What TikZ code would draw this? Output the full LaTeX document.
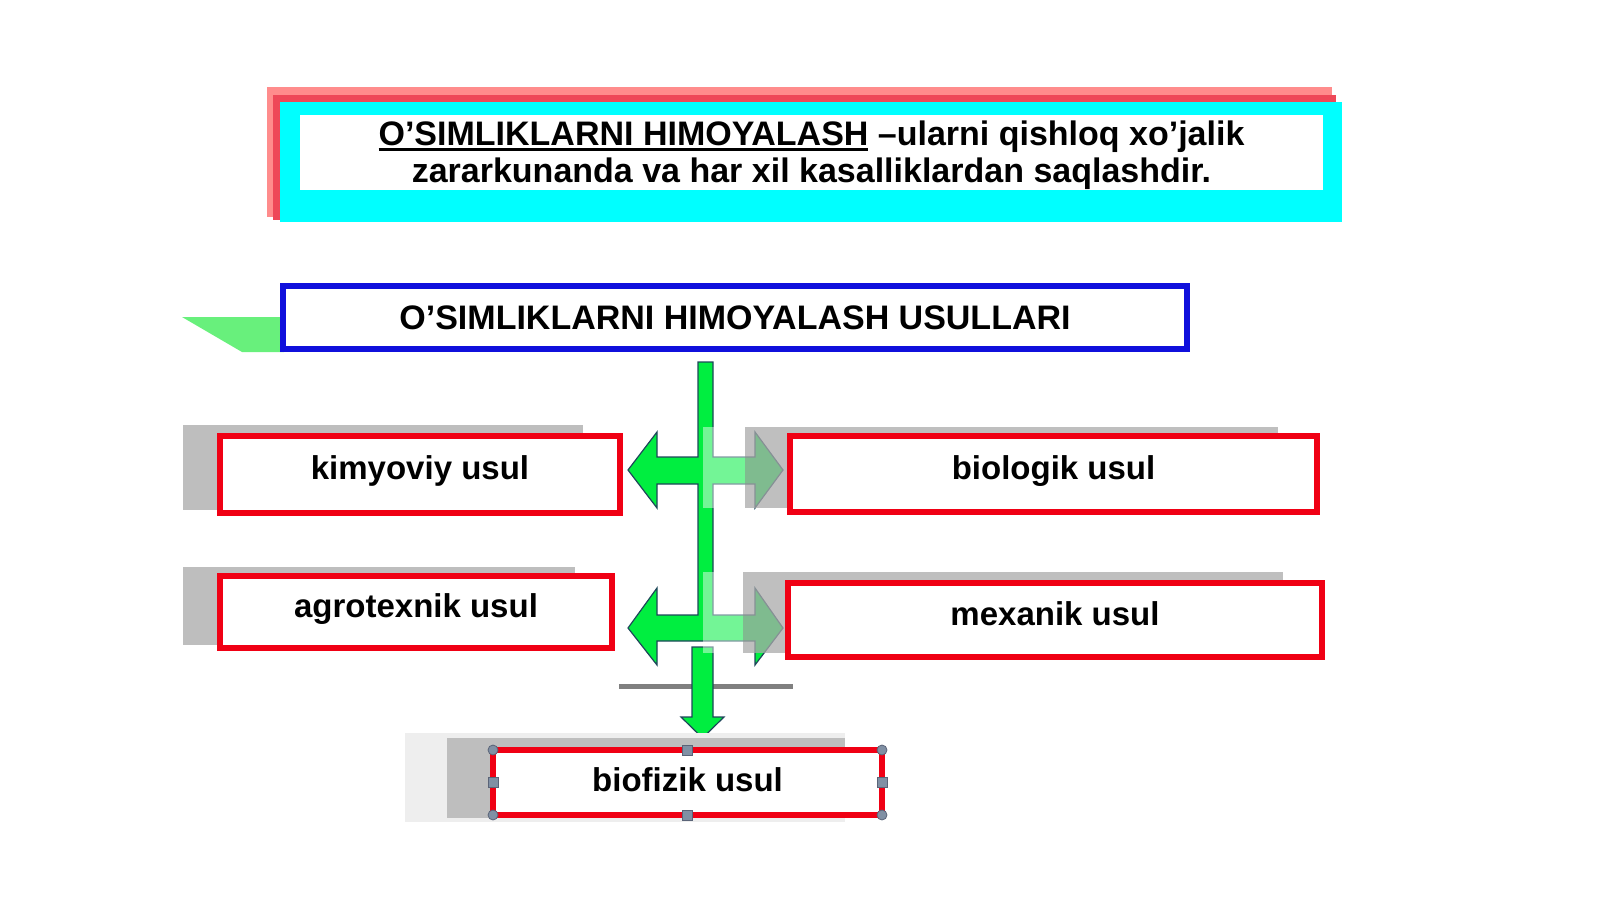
\documentclass[tikz,border=0pt]{standalone}
\usepackage{fontspec}
\setmainfont{Liberation Sans}
\usepackage{tikz}
\usetikzlibrary{positioning,calc}
\definecolor{titleRed}{RGB}{255,140,140}
\definecolor{titleDark}{RGB}{238,72,88}
\definecolor{titleCyan}{RGB}{0,255,255}
\definecolor{headBlue}{RGB}{16,16,220}
\definecolor{wedgeGreen}{RGB}{104,240,124}
\definecolor{boxRed}{RGB}{240,0,20}
\definecolor{arrowGreen}{RGB}{0,238,64}
\definecolor{arrowEdge}{RGB}{30,70,90}
\definecolor{shadowGray}{RGB}{190,190,190}
\definecolor{overGray}{RGB}{170,170,170}
\definecolor{paleGray}{RGB}{238,238,238}
\definecolor{lineGray}{RGB}{128,128,128}
\definecolor{handleFill}{RGB}{128,144,164}
\definecolor{handleEdge}{RGB}{90,100,120}
\newcommand\headFont{\fontsize{34}{37}\selectfont\bfseries}
\newcommand\methodFont{\fontsize{33}{36}\selectfont\bfseries}
\newcommand\ulbar[1]{\sbox0{#1}\rlap{\rule[-5pt]{\wd0}{2.5pt}}\usebox0}
\tikzset{
  titleBox/.style={
    rectangle,
    fill=white,
    inner sep=0pt,
    minimum width=1023pt,
    minimum height=75pt,
    align=center,
    font=\headFont
  },
  headBox/.style={
    rectangle,
    draw=headBlue,
    line width=6pt,
    fill=white,
    inner sep=0pt,
    outer sep=0pt,
    minimum width=904pt,
    minimum height=63pt,
    font=\headFont
  },
  methodBox/.style={
    rectangle,
    draw=boxRed,
    line width=6pt,
    fill=white,
    inner sep=0pt,
    outer sep=0pt,
    text height=24pt,
    text depth=14pt,
    font=\methodFont
  },
  blockArrow/.style={
    fill=arrowGreen,
    draw=arrowEdge,
    line width=1.2pt,
    line join=miter
  },
  handleDot/.style={
    circle,
    fill=handleFill,
    draw=handleEdge,
    line width=0.8pt,
    inner sep=0pt,
    minimum size=10pt
  },
  handleSq/.style={
    rectangle,
    fill=handleFill,
    draw=handleEdge,
    line width=0.8pt,
    inner sep=0pt,
    minimum size=10pt
  }
}

\begin{document}
\begin{tikzpicture}[x=1pt,y=-1pt]
    \useasboundingbox (0,0) rectangle (1600,899);

    \fill[titleRed] (267,87) rectangle (1332,217);
    \fill[titleDark] (273,95) rectangle (1336,220);
    \fill[titleCyan] (280,102) rectangle (1342,222);
    \node[titleBox] (title) at (811.5,152.5) {\rule{0pt}{31pt}\ulbar{O’SIMLIKLARNI HIMOYALASH} –ularni qishloq xo’jalik\\zararkunanda va har xil kasalliklardan saqlashdir.};

    \fill[wedgeGreen] (182,317) -- (284,317) -- (284,352) -- (242,352) -- cycle;
    \node[headBox] (usullar) at (735,317.5) {O’SIMLIKLARNI HIMOYALASH USULLARI};

    \fill[shadowGray] (183,425) rectangle (583,510);
    \fill[shadowGray] (183,567) rectangle (575,645);
    \node[methodBox, minimum width=400pt, minimum height=77pt] (kimyoviy) at (420,474.5) {kimyoviy usul};
    \node[methodBox, minimum width=392pt, minimum height=72pt] (agrotexnik) at (416,612) {agrotexnik usul};

    \coordinate (barL) at (619,686);
    \coordinate (barR) at (793,686);
    \draw[lineGray, line width=5pt] (barL) -- (barR);

    \draw[blockArrow] (698,362) -- (713,362) -- (713,457) -- (755,457) -- (755,432) -- (783,470)
        -- (755,508) -- (755,484) -- (713,484) -- (713,615) -- (755,615) -- (755,588) -- (783,628)
        -- (755,665) -- (755,641) -- (657,641) -- (657,665) -- (628,628) -- (657,588) -- (657,615)
        -- (698,615) -- (698,484) -- (657,484) -- (657,508) -- (628,470) -- (657,432) -- (657,457)
        -- (698,457) -- cycle;
    \draw[blockArrow] (692,647) -- (713,647) -- (713,717) -- (724,717) -- (702.5,738) -- (681,717)
        -- (692,717) -- cycle;

    \fill[white, opacity=0.45] (703,427) rectangle (745,508);
    \fill[overGray, opacity=0.75] (745,427) rectangle (1278,508);
    \fill[white, opacity=0.45] (703,572) rectangle (743,653);
    \fill[overGray, opacity=0.75] (743,572) rectangle (1283,653);
    \node[methodBox, minimum width=527pt, minimum height=76pt] (biologik) at (1053.5,474) {biologik usul};
    \node[methodBox, minimum width=534pt, minimum height=74pt] (mexanik) at (1055,620) {mexanik usul};

    \fill[paleGray] (405,733) rectangle (845,822);
    \fill[shadowGray] (447,738) rectangle (845,818);
    \node[methodBox, minimum width=389pt, minimum height=65pt, text height=32pt] (biofizik) at (687.5,782.5) {biofizik usul};
    \foreach \a in {north west,north east,south west,south east}
        \node[handleDot] (hdl \a) at (biofizik.\a) {};
    \foreach \a in {north,south,west,east}
        \node[handleSq] (hdl \a) at (biofizik.\a) {};
\end{tikzpicture}
\end{document}
